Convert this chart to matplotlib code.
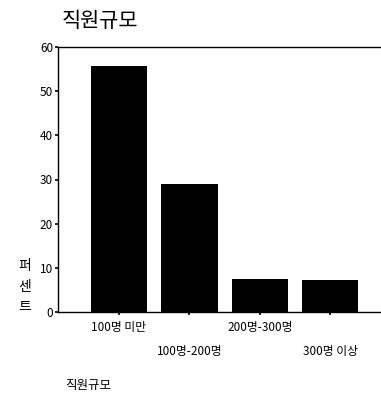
import matplotlib.pyplot as plt

plt.rcParams['font.family'] = ['Noto Sans CJK KR', 'DejaVu Sans']

# 직원규모별 응답 비율 (%)
categories = ['100명 미만', '100명-200명', '200명-300명', '300명 이상']
percents = [55.7, 29.0, 7.5, 7.2]
yticks = [0, 10, 20, 30, 40, 50, 60]

fig = plt.figure(figsize=(3.81, 4.0), dpi=100)
ax = fig.add_axes([0.152, 0.22, 0.848, 0.6625])

x = range(len(categories))
ax.bar(x, percents, width=0.8, color='black')

ax.set_ylim(0, 60)
ax.set_xlim(-0.865, 3.72)
ax.set_yticks(yticks)
ax.set_yticklabels([str(t) for t in yticks], fontsize=8.5)
ax.set_xticks(list(x))
ax.set_xticklabels([])
ax.tick_params(axis='both', direction='out', length=2.5, width=1.2, pad=1)

# 눈금 라벨을 위아래로 엇갈리게 배치
for i, lab in enumerate(categories):
    yoff = -0.058 if i % 2 == 0 else -0.15
    ax.text(i, yoff, lab, transform=ax.get_xaxis_transform(),
            ha='center', va='center', fontsize=8.5)

for side in ['top', 'left', 'bottom']:
    ax.spines[side].set_linewidth(1.0)
ax.spines['right'].set_visible(False)

fig.text(0.065, 0.283, '퍼\n센\n트', ha='center', va='center', fontsize=10,
         linespacing=1.6)
fig.text(0.162, 0.948, '직원규모', ha='left', va='center', fontsize=15)
fig.text(0.17, 0.037, '직원규모', ha='left', va='center', fontsize=9)

fig.savefig('out.png', dpi=100)
